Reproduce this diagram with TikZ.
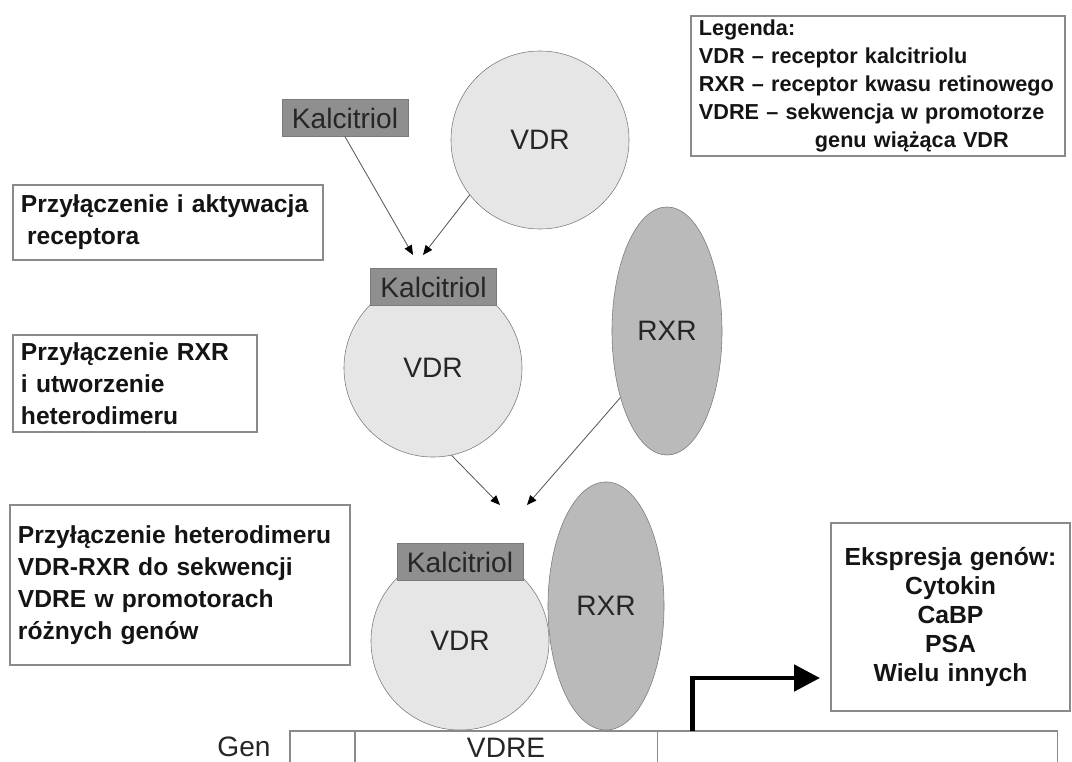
\documentclass[tikz,border=0pt]{standalone}
\usepackage{fontspec}
\setmainfont{Liberation Sans}
\usetikzlibrary{arrows.meta,positioning,shapes.geometric,calc}
\definecolor{ligand}{HTML}{8F8F8F}
\definecolor{vdrfill}{HTML}{E6E6E6}
\definecolor{rxrfill}{HTML}{BABABA}
\definecolor{edge}{HTML}{7A7A7A}
\definecolor{boxline}{HTML}{8A8A8A}
\definecolor{ink}{HTML}{262626}

\begin{document}
\begin{tikzpicture}[
    x=0.025cm, y=-0.025cm,
    >={Triangle[length=2.4mm,width=2mm,color=black]},
    lbl/.style={font=\fontsize{20}{23}\selectfont, text=ink},
    note/.style={draw=boxline, line width=0.8pt, text=black!92, align=left, inner xsep=0.2cm, inner ysep=0pt,
      font=\bfseries\fontsize{17.5}{22.7}\selectfont},
    kalc/.style={draw=edge, fill=ligand, lbl, minimum width=3.15cm, minimum height=0.92cm, inner sep=0pt},
    vdr/.style={draw=edge, fill=vdrfill, circle, lbl, minimum size=4.45cm, inner sep=0pt},
    rxr/.style={draw=edge, fill=rxrfill, ellipse, lbl, minimum width=2.8cm, minimum height=6.2cm, inner sep=0pt},
    seg/.style={draw=boxline, line width=0.8pt, lbl, minimum height=0.85cm, inner sep=0pt, outer sep=0pt},
    link/.style={->, draw=black!65, line width=0.6pt},
    promo/.style={-{Triangle[length=6.5mm,width=6.5mm]}, line width=3.5pt},
  ]
  \useasboundingbox (0,0) rectangle (1072,762);

  \node[note, text width=8.95cm, minimum height=3.5cm, font=\bfseries\fontsize{15.4}{19.8}\selectfont] (legend) at (878,86)
    {Legenda:\\ VDR – receptor kalcitriolu\\ RXR – receptor kwasu retinowego\\ VDRE – sekwencja w promotorze\\
     \hspace*{2.9cm}genu wiążąca VDR};

  % step 1: free ligand and receptor
  \node[kalc] (kal1) at (345,118) {Kalcitriol};
  \node[vdr] (vdr1) at (540,140) {VDR};
  \node[note, text width=7.35cm, minimum height=1.875cm] (step1) at (168,222.5)
    {Przyłączenie i aktywacja\\ \hspace*{0.25em}receptora};
  \draw[link] (kal1.south) -- (413,255);
  \draw[link] (vdr1.218) -- (423,255);

  % step 2: ligand bound, RXR joins
  \node[vdr] (vdr2) at (433,368) {VDR};
  \node[kalc] (kal2) at (433.5,287) {Kalcitriol};
  \node[rxr, minimum width=2.75cm] (rxr2) at (667,331) {RXR};
  \node[note, text width=5.7cm, minimum height=2.425cm] (step2) at (135,383.5)
    {Przyłączenie RXR\\ i utworzenie\\ heterodimeru};
  \draw[link] (vdr2.282) -- (500,505);
  \draw[link] (rxr2.235) -- (527,505);

  % step 3: heterodimer on the gene
  \node[note, text width=8.1cm, minimum height=4cm] (step3) at (180,585)
    {Przyłączenie heterodimeru\\ VDR-RXR do sekwencji\\ VDRE w promotorach\\ różnych genów};
  \node[vdr] (vdr3) at (460,641) {VDR};
  \node[kalc] (kal3) at (460,562) {Kalcitriol};
  \node[rxr, minimum width=2.9cm] (rxr3) at (606,606) {RXR};

  \node[lbl] (gen) at (244,747) {Gen};
  \node[seg, anchor=north west, minimum width=1.625cm] (g1) at (290,731) {};
  \node[seg, right=0pt of g1, minimum width=7.55cm] (vdre) {VDRE};
  \node[seg, right=0pt of vdre, minimum width=10cm] (g3) {};

  \node[note, align=center, text width=5.575cm, minimum height=4.7cm, font=\bfseries\fontsize{17.6}{20.5}\selectfont] (expr) at (950.5,617)
    {Ekspresja genów:\\ Cytokin\\ CaBP\\ PSA\\ Wielu innych};

  \coordinate (tss) at ($(g3.north west)+(35,0)$);
  \coordinate (tip) at (820,678);
  \draw[promo] (tss) |- (tip);
\end{tikzpicture}
\end{document}
